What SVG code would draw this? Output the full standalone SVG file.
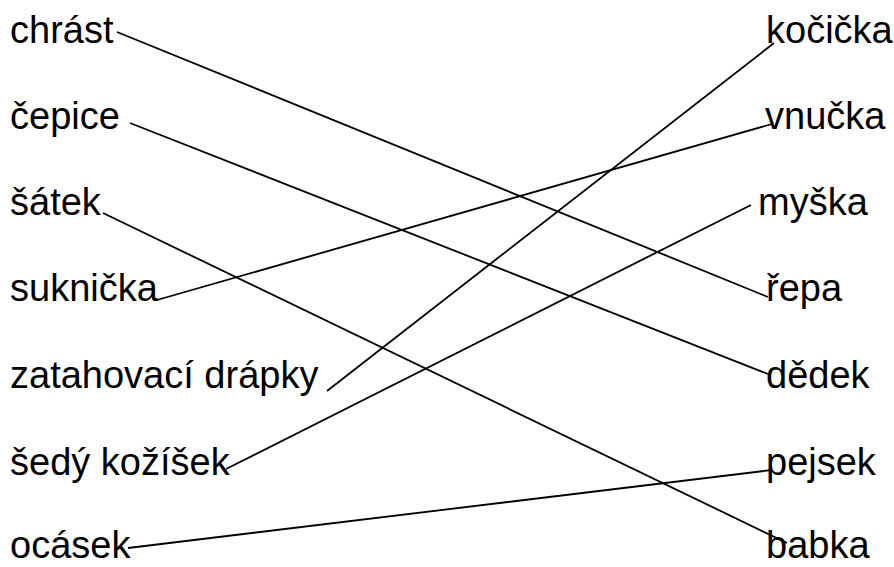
<svg xmlns="http://www.w3.org/2000/svg" width="894" height="567" viewBox="0 0 894 567">
<style>
text{font-family:"Liberation Sans",Arial,sans-serif;font-size:38px;fill:#000}
.c line{stroke:#000;stroke-width:1.8;fill:none}
</style>
<rect width="894" height="567" fill="#fff"/>
<g id="l1"><text x="10" y="43">chrást</text></g>
<g id="l2"><text x="10" y="129">čepice</text></g>
<g id="l3"><text x="10" y="215">šátek</text></g>
<g id="l4"><text x="10" y="301">suknička</text></g>
<g id="l5"><text x="10" y="388">zatahovací drápky</text></g>
<g id="l6"><text x="10" y="475">šedý kožíšek</text></g>
<g id="l7"><text x="10" y="558">ocásek</text></g>
<g id="r1"><text x="766" y="43">kočička</text></g>
<g id="r2"><text x="765" y="129">vnučka</text></g>
<g id="r3"><text x="758" y="215">myška</text></g>
<g id="r4"><text x="766" y="301">řepa</text></g>
<g id="r5"><text x="766" y="388">dědek</text></g>
<g id="r6"><text x="766" y="475">pejsek</text></g>
<g id="r7"><text x="766" y="558">babka</text></g>
<g class="c" id="connectors">
<line x1="117" y1="32" x2="768" y2="297"/>
<line x1="130" y1="123" x2="768" y2="374"/>
<line x1="103" y1="213" x2="787" y2="543"/>
<line x1="157" y1="300" x2="772" y2="124"/>
<line x1="327" y1="391" x2="774" y2="43"/>
<line x1="226" y1="469" x2="751" y2="205"/>
<line x1="128" y1="548" x2="772" y2="470"/>
</g>
</svg>
